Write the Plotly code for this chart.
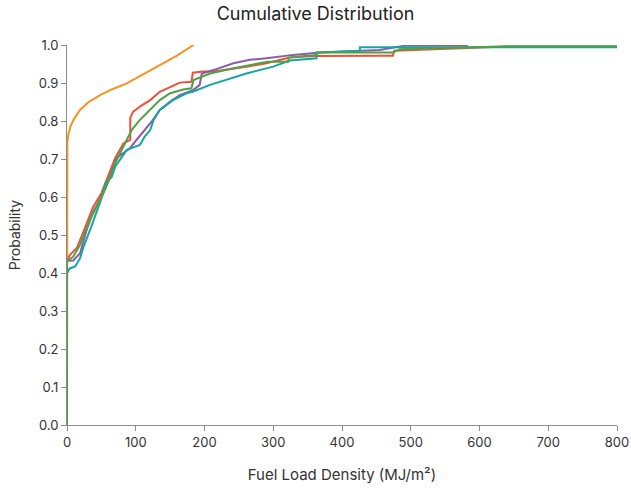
import plotly.graph_objects as go

# Fitted (smooth) curve
orange_x = [0, 0, 0.5, 2, 5, 10, 19, 30, 48, 65, 87, 110, 135, 160, 184]
orange_y = [0, 0.60, 0.745, 0.765, 0.785, 0.805, 0.829, 0.848, 0.868, 0.883, 0.899, 0.922, 0.947, 0.972, 1.0]

red_x = [0, 0, 4, 14, 24, 38, 50, 60, 70, 82, 92, 92, 96, 106, 121, 135, 150, 164, 181, 183, 198, 213, 261, 290, 324, 358, 455, 474, 476, 560, 640, 800]
red_y = [0, 0.43, 0.447, 0.465, 0.509, 0.574, 0.61, 0.655, 0.702, 0.741, 0.75, 0.808, 0.824, 0.838, 0.855, 0.877, 0.89, 0.901, 0.903, 0.927, 0.93, 0.93, 0.943, 0.952, 0.967, 0.971, 0.972, 0.972, 0.985, 0.99, 0.996, 0.996]

purple_x = [0, 0, 9, 19, 28, 38, 50, 60, 72, 82, 92, 101, 113, 123, 135, 150, 164, 184, 193, 196, 213, 242, 266, 290, 329, 368, 455, 494, 583]
purple_y = [0, 0.432, 0.433, 0.452, 0.51, 0.561, 0.6, 0.64, 0.702, 0.715, 0.729, 0.75, 0.776, 0.798, 0.829, 0.851, 0.868, 0.882, 0.895, 0.925, 0.934, 0.952, 0.961, 0.965, 0.974, 0.98, 0.987, 0.999, 0.999]

teal_x = [0, 0, 4, 12, 19, 24, 35, 45, 51, 56, 65, 70, 87, 106, 113, 121, 126, 135, 154, 174, 183, 208, 237, 261, 300, 324, 363, 363, 426, 426, 800]
teal_y = [0, 0.399, 0.412, 0.417, 0.439, 0.469, 0.52, 0.57, 0.601, 0.636, 0.653, 0.68, 0.724, 0.737, 0.759, 0.776, 0.803, 0.829, 0.855, 0.873, 0.877, 0.895, 0.912, 0.925, 0.943, 0.959, 0.965, 0.98, 0.985, 0.994, 0.994]

green_x = [0, 0, 9, 19, 33, 43, 53, 70, 87, 94, 106, 121, 135, 150, 169, 181, 184, 208, 242, 292, 322, 322, 363, 363, 474, 484, 649, 800]
green_y = [0, 0.43, 0.443, 0.474, 0.539, 0.574, 0.61, 0.689, 0.75, 0.776, 0.803, 0.829, 0.855, 0.873, 0.883, 0.886, 0.908, 0.925, 0.939, 0.956, 0.956, 0.967, 0.974, 0.98, 0.98, 0.989, 0.997, 0.997]

x_ticks = [0, 100, 200, 300, 400, 500, 600, 700, 800]
y_ticks = [0.0, 0.1, 0.2, 0.3, 0.4, 0.5, 0.6, 0.7, 0.8, 0.9, 1.0]

series = [
    ("Fitted", orange_x, orange_y, "#F7931E"),
    ("Series 1", red_x, red_y, "#EE5137"),
    ("Series 2", purple_x, purple_y, "#8E5BAA"),
    ("Series 3", teal_x, teal_y, "#16A5A3"),
    ("Series 4", green_x, green_y, "#4FA244"),
]

fig = go.Figure()
for name, xs, ys, col in series:
    fig.add_trace(go.Scatter(x=xs, y=ys, mode="lines", name=name,
                             line=dict(color=col, width=2), showlegend=False))

axis_common = dict(showgrid=False, zeroline=False, showline=True, linecolor="#8c8c8c",
                   linewidth=1, ticks="outside", ticklen=5, tickcolor="#8c8c8c",
                   tickfont=dict(size=13, color="#333333"), automargin=False, layer="below traces")

fig.update_layout(
    width=631, height=488,
    margin=dict(l=67, r=14, t=45, b=63, autoexpand=False),
    paper_bgcolor="white", plot_bgcolor="white",
    font=dict(family="Inter, sans-serif", color="#333333"),
    title=dict(text="Cumulative Distribution", x=0.5, xanchor="center", y=1 - 14 / 488, yanchor="middle",
               font=dict(size=18, color="#222222"), automargin=False),
    xaxis=dict(range=[0, 800], tickvals=x_ticks, ticktext=[str(v) for v in x_ticks],
               title=dict(text="Fuel Load Density (MJ/m²)", font=dict(size=15, color="#333333"), standoff=20),
               **axis_common),
    yaxis=dict(range=[0, 1.0], tickvals=y_ticks, ticktext=[f"{v:.1f}" for v in y_ticks],
               title=dict(text="Probability", font=dict(size=14, color="#333333"), standoff=14),
               **axis_common),
)

fig.write_html(
    "out.html",
    config={"displayModeBar": False},
    post_script="document.body.style.margin='0';document.body.style.overflow='hidden';",
)
